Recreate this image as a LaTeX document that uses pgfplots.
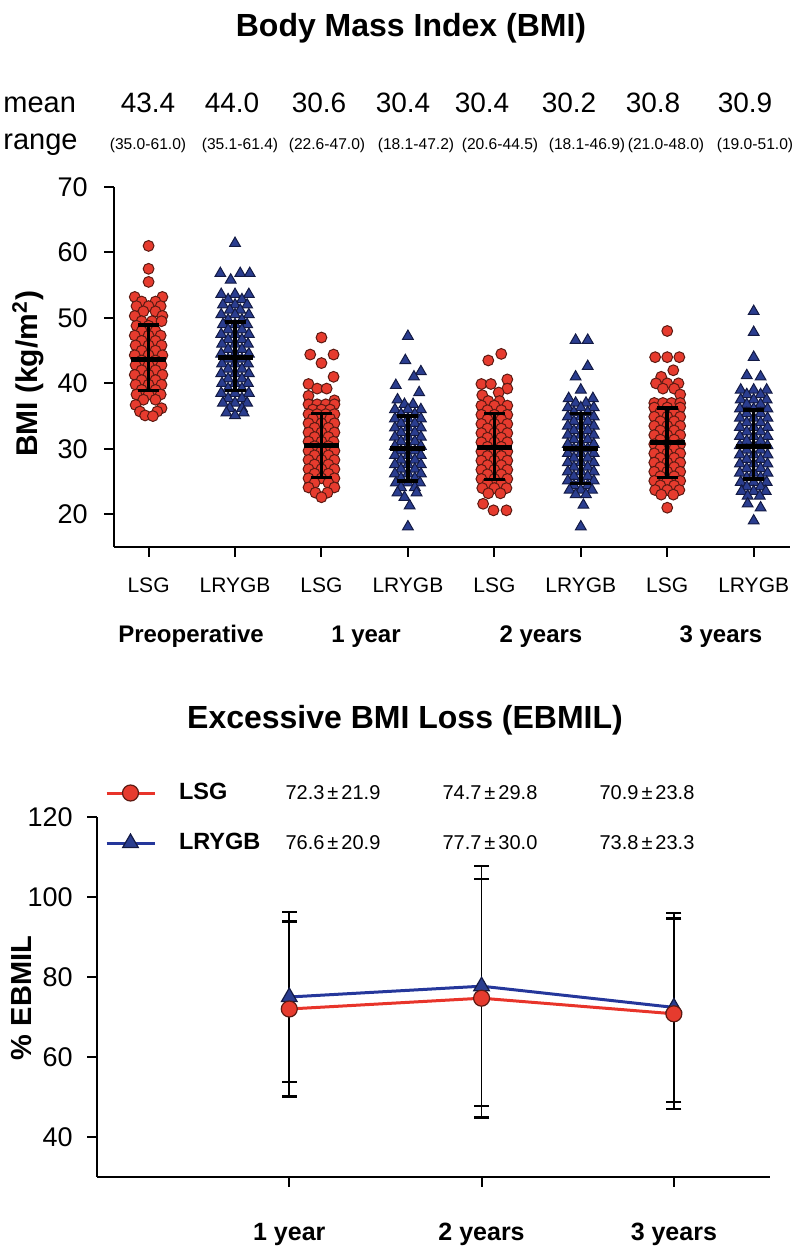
\documentclass[border=0pt]{standalone}
\usepackage{pgfplots}
\pgfplotsset{compat=1.18}
\usepackage{fontspec}
\setmainfont{Liberation Sans}
\definecolor{redfill}{HTML}{E63B2E}
\definecolor{rededge}{HTML}{5C1A12}
\definecolor{bluefill}{HTML}{2A3D8F}
\definecolor{blueedge}{HTML}{131A44}
\definecolor{redline}{HTML}{E8342A}
\definecolor{blueline}{HTML}{25379B}
\newcommand{\fs}[1]{\fontsize{#1}{#1}\selectfont}
\begin{document}
\begin{tikzpicture}
\useasboundingbox (0,0) rectangle (400pt,624pt);
% ---------------- top: BMI ----------------
\begin{axis}[
  at={(57pt,350.5pt)}, anchor=south west,
  width=338pt, height=180pt, scale only axis,
  xmin=-0.4, xmax=7.42, ymin=15, ymax=70,
  axis lines=left,
  axis line style={-, line width=1pt, black},
  xtick={0,...,7}, ytick={20,30,...,70},
  xticklabels={LSG,LRYGB,LSG,LRYGB,LSG,LRYGB,LSG,LRYGB},
  tick align=outside, major tick length=5pt,
  every tick/.style={black, line width=1pt},
  /pgf/number format/assume math mode=true,
  yticklabel style={font=\fs{13.5}, anchor=east, inner sep=0pt, xshift=-8pt},
  xticklabel style={font=\fs{10.5}, anchor=base, inner sep=0pt, yshift=-17.75pt},
  clip=false, clip marker paths=true,
]
% LSG (red circles)
\addplot[only marks, mark=*, mark size=2.7pt, mark options={fill=redfill, draw=rededge, line width=0.5pt}] coordinates {
(0,61.0) (0,57.5) (0,55.5)
(-0.16,53.2) (0.16,53.2) (-0.08,52.5) (0.08,52.5)
(-0.14,51.8) (0,51.8) (0.14,51.8) (-0.06,51.0) (0.08,51.0)
(-0.16,50.3) (0.16,50.3) (-0.08,49.5) (0.04,49.5) (0.15,49.5)
(-0.14,48.8) (0,48.8) (-0.08,48.0) (0.08,48.0)
(-0.16,47.3) (0,47.3) (0.14,47.3) (-0.08,46.5) (0.08,46.5)
(-0.15,45.8) (0,45.8) (0.15,45.8) (-0.08,45.0) (0.08,45.0)
(-0.16,44.3) (0,44.3) (0.16,44.3) (-0.08,43.5) (0.08,43.5)
(-0.15,42.8) (0,42.8) (0.15,42.8) (-0.08,42.0) (0.08,42.0)
(-0.16,41.3) (0,41.3) (0.16,41.3) (-0.08,40.5) (0.08,40.5)
(-0.15,39.8) (0,39.8) (0.15,39.8) (-0.08,39.0) (0.08,39.0)
(-0.14,38.3) (0,38.3) (0.14,38.3) (-0.06,37.5) (0.08,37.5)
(-0.15,36.7) (0.15,36.2) (-0.1,35.7) (0.1,35.7) (-0.04,35.1) (0.05,35.0)
(2,47.0) (1.87,44.4) (2.14,44.4) (2,43.1) (2.14,41.0) (1.85,39.9)
(1.95,39.2) (2.06,39.2) (1.85,38.1) (2.15,37.4)
(1.85,36.8) (1.95,36.8) (2.05,36.8) (2.15,36.8)
(1.9,36.0) (2.0,36.0) (2.1,36.0)
(1.85,35.3) (1.95,35.3) (2.05,35.3) (2.15,35.3)
(1.9,34.6) (2.1,34.6) (1.85,33.9) (2,33.9) (2.15,33.9)
(1.92,33.2) (2.08,33.2) (1.85,32.5) (2,32.5) (2.15,32.5)
(1.92,31.8) (2.08,31.8) (1.85,31.1) (2,31.1) (2.14,31.1)
(1.92,30.4) (2.08,30.4) (1.85,29.7) (2,29.7) (2.15,29.7)
(1.92,29.0) (2.08,29.0) (1.85,28.3) (2,28.3) (2.15,28.3)
(1.92,27.6) (2.08,27.6) (1.85,26.9) (2,26.9) (2.15,26.9)
(1.92,26.2) (2.08,26.2) (1.85,25.5) (2,25.5) (2.15,25.5)
(1.92,24.8) (2.08,24.8) (1.85,24.1) (2.15,24.1)
(1.93,23.3) (2.07,23.3) (2,22.6)
(4.08,44.5) (3.93,43.5) (4.15,40.6) (3.85,39.9) (3.96,39.9) (4.15,39.2)
(4.05,38.6) (3.86,38.2) (3.93,37.3) (4.06,37.3)
(3.85,36.6) (4,36.6) (4.15,36.6) (3.92,35.9) (4.08,35.9)
(3.85,35.2) (4,35.2) (4.15,35.2) (3.92,34.5) (4.08,34.5)
(3.85,33.8) (4,33.8) (4.15,33.8) (3.92,33.1) (4.08,33.1)
(3.85,32.4) (4,32.4) (4.15,32.4) (3.92,31.7) (4.08,31.7)
(3.85,31.0) (4,31.0) (4.15,31.0) (3.92,30.3) (4.08,30.3)
(3.85,29.6) (4,29.6) (4.15,29.6) (3.92,28.9) (4.08,28.9)
(3.85,28.2) (4,28.2) (4.15,28.2) (3.92,27.5) (4.08,27.5)
(3.85,26.8) (4,26.8) (4.15,26.8) (3.92,26.1) (4.08,26.1)
(3.85,25.4) (4,25.4) (4.15,25.4) (3.92,24.7) (4.08,24.7)
(3.86,24.0) (4,24.0) (4.14,24.0) (3.93,23.2) (4.07,23.2)
(3.87,21.6) (3.99,20.6) (4.14,20.6)
(6,48.0) (5.86,44.0) (6,44.0) (6.14,44.0) (6.07,42.0) (5.93,41.0)
(5.87,40.0) (6.0,40.0) (6.13,40.0) (5.95,39.2) (6.08,39.2) (6.15,38.3)
(5.85,37.0) (5.95,37.0) (6.05,37.0) (6.15,37.0)
(5.85,36.3) (6,36.3) (6.15,36.3) (5.92,35.6) (6.08,35.6)
(5.85,34.9) (6,34.9) (6.15,34.9) (5.92,34.2) (6.08,34.2)
(5.85,33.5) (6,33.5) (6.15,33.5) (5.92,32.8) (6.08,32.8)
(5.85,32.1) (6,32.1) (6.15,32.1) (5.92,31.4) (6.08,31.4)
(5.85,30.7) (6,30.7) (6.15,30.7) (5.92,30.0) (6.08,30.0)
(5.85,29.3) (6,29.3) (6.15,29.3) (5.92,28.6) (6.08,28.6)
(5.85,27.9) (6,27.9) (6.15,27.9) (5.92,27.2) (6.08,27.2)
(5.85,26.5) (6,26.5) (6.15,26.5) (5.92,25.8) (6.08,25.8)
(5.85,25.1) (6,25.1) (6.15,25.1) (5.92,24.4) (6.08,24.4)
(5.86,23.7) (6,23.7) (6.14,23.7) (5.93,23.0) (6.07,23.0) (6,21.0)
};
% LRYGB (blue triangles)
\addplot[only marks, mark=triangle*, mark size=3.1pt, mark options={fill=bluefill, draw=blueedge, line width=0.5pt}] coordinates {
(1,61.4) (0.83,56.8) (1.06,56.8) (1.17,56.8) (0.95,55.8)
(0.84,53.6) (1,53.6) (1.16,53.6) (0.92,52.8) (1.08,52.8)
(0.86,52.0) (1,52.0) (1.14,52.0) (0.94,51.2) (1.06,51.2)
(0.84,50.5) (1,50.5) (1.16,50.5) (0.92,49.7) (1.08,49.7)
(0.86,49.0) (1,49.0) (1.14,49.0) (0.92,48.2) (1.08,48.2)
(0.84,47.5) (1,47.5) (1.16,47.5) (0.92,46.7) (1.08,46.7)
(0.85,46.0) (1,46.0) (1.15,46.0) (0.92,45.2) (1.08,45.2)
(0.84,44.5) (1,44.5) (1.16,44.5) (0.92,43.7) (1.08,43.7)
(0.85,43.0) (1,43.0) (1.15,43.0) (0.92,42.2) (1.08,42.2)
(0.84,41.5) (1,41.5) (1.16,41.5) (0.92,40.7) (1.08,40.7)
(0.85,40.0) (1,40.0) (1.15,40.0) (0.92,39.2) (1.08,39.2)
(0.84,38.5) (1,38.5) (1.16,38.5) (0.92,37.7) (1.08,37.7)
(0.86,37.0) (1,37.0) (1.14,37.0) (0.94,36.2) (1.08,36.2)
(0.9,35.5) (1.1,35.5) (1,35.1)
(3,47.2) (2.97,43.5) (3.15,41.8) (3.07,41.0) (2.86,39.7) (3.13,38.6) (2.88,37.5)
(2.96,36.8) (3.06,36.8) (2.85,36.0) (3,36.0) (3.15,36.0) (2.92,35.3) (3.08,35.3)
(2.85,34.6) (3,34.6) (3.15,34.6) (2.92,33.9) (3.08,33.9)
(2.85,33.2) (3,33.2) (3.15,33.2) (2.92,32.5) (3.08,32.5)
(2.85,31.8) (3,31.8) (3.15,31.8) (2.92,31.1) (3.08,31.1)
(2.85,30.4) (3,30.4) (3.15,30.4) (2.92,29.7) (3.08,29.7)
(2.85,29.0) (3,29.0) (3.15,29.0) (2.92,28.3) (3.08,28.3)
(2.85,27.6) (3,27.6) (3.15,27.6) (2.92,26.9) (3.08,26.9)
(2.85,26.2) (3,26.2) (3.15,26.2) (2.92,25.5) (3.08,25.5)
(2.86,24.8) (3,24.8) (3.14,24.8) (2.92,24.1) (3.08,24.1)
(2.88,23.3) (3.1,23.3) (2.96,22.6) (3.02,21.3) (3,18.1)
(4.94,46.6) (5.08,46.6) (5.08,42.6) (4.94,41.0) (5,39.0) (4.86,37.7) (5.14,37.7)
(4.94,37.0) (5.06,37.0)
(4.85,36.3) (5,36.3) (5.15,36.3) (4.92,35.6) (5.08,35.6)
(4.85,34.9) (5,34.9) (5.15,34.9) (4.92,34.2) (5.08,34.2)
(4.85,33.5) (5,33.5) (5.15,33.5) (4.92,32.8) (5.08,32.8)
(4.85,32.1) (5,32.1) (5.15,32.1) (4.92,31.4) (5.08,31.4)
(4.85,30.7) (5,30.7) (5.15,30.7) (4.92,30.0) (5.08,30.0)
(4.85,29.3) (5,29.3) (5.15,29.3) (4.92,28.6) (5.08,28.6)
(4.85,27.9) (5,27.9) (5.15,27.9) (4.92,27.2) (5.08,27.2)
(4.85,26.5) (5,26.5) (5.15,26.5) (4.92,25.8) (5.08,25.8)
(4.85,25.1) (5,25.1) (5.15,25.1) (4.92,24.4) (5.08,24.4)
(4.87,23.7) (5,23.7) (5.13,23.7) (4.94,23.0) (5.06,23.0)
(5.03,21.4) (5,18.1)
(7,51.0) (7,47.8) (7,44.0) (6.92,41.2) (7.08,41.0)
(6.85,39.0) (7,39.0) (7.15,39.0) (6.92,38.3) (7.08,38.3)
(6.85,37.5) (7,37.5) (7.15,37.5) (6.92,36.8) (7.08,36.8)
(6.84,36.1) (7,36.1) (7.16,36.1) (6.92,35.4) (7.08,35.4)
(6.84,34.7) (7,34.7) (7.16,34.7) (6.92,34.0) (7.08,34.0)
(6.84,33.3) (7,33.3) (7.16,33.3) (6.92,32.6) (7.08,32.6)
(6.84,31.9) (7,31.9) (7.16,31.9) (6.92,31.2) (7.08,31.2)
(6.84,30.5) (7,30.5) (7.16,30.5) (6.92,29.8) (7.08,29.8)
(6.84,29.1) (7,29.1) (7.16,29.1) (6.92,28.4) (7.08,28.4)
(6.84,27.7) (7,27.7) (7.16,27.7) (6.92,27.0) (7.08,27.0)
(6.84,26.3) (7,26.3) (7.16,26.3) (6.92,25.6) (7.08,25.6)
(6.85,24.9) (7,24.9) (7.15,24.9) (6.92,24.2) (7.08,24.2)
(6.86,23.5) (7,23.5) (7.14,23.5) (6.93,22.8) (7.07,22.8)
(6.93,21.6) (7.08,21.0) (7,19.0)
};
% mean +/- SD : vertical bars, one plot per group
\addplot[black, line width=1.8pt, mark=none] coordinates {(0,38.9) (0,48.9)};
\addplot[black, line width=1.8pt, mark=none] coordinates {(1,38.9) (1,49.4)};
\addplot[black, line width=1.8pt, mark=none] coordinates {(2,25.6) (2,35.4)};
\addplot[black, line width=1.8pt, mark=none] coordinates {(3,25.1) (3,35.0)};
\addplot[black, line width=1.8pt, mark=none] coordinates {(4,25.3) (4,35.4)};
\addplot[black, line width=1.8pt, mark=none] coordinates {(5,24.7) (5,35.4)};
\addplot[black, line width=1.8pt, mark=none] coordinates {(6,25.6) (6,36.2)};
\addplot[black, line width=1.8pt, mark=none] coordinates {(7,25.4) (7,35.9)};
\addplot[only marks, mark=-, mark size=5.25pt, mark options={line width=1.8pt, black}] coordinates {
(0,38.9)(0,48.9)(1,38.9)(1,49.4)(2,25.6)(2,35.4)(3,25.1)(3,35.0)
(4,25.3)(4,35.4)(5,24.7)(5,35.4)(6,25.6)(6,36.2)(7,25.4)(7,35.9)};
\addplot[only marks, mark=-, mark size=8.75pt, mark options={line width=2.4pt, black}] coordinates {
(0,43.6)(1,44.0)(2,30.5)(3,30.0)(4,30.2)(5,30.0)(6,31.0)(7,30.4)};
\end{axis}
% ---------------- bottom: EBMIL ----------------
\begin{axis}[
  at={(48.5pt,35.5pt)}, anchor=south west,
  width=336.5pt, height=180pt, scale only axis,
  xmin=0, xmax=3.5, ymin=30, ymax=120,
  axis lines=left,
  axis line style={-, line width=1pt, black},
  xtick={1,2,3}, ytick={40,60,...,120},
  xticklabels={1 year,2 years,3 years},
  tick align=outside, major tick length=5pt,
  every tick/.style={black, line width=1pt},
  /pgf/number format/assume math mode=true,
  yticklabel style={font=\fs{13.5}, anchor=east, inner sep=0pt, xshift=-7pt},
  xticklabel style={font=\bfseries\fs{12.5}, anchor=base, inner sep=0pt, yshift=-26.5pt},
  clip=false,
  legend cell align=left,
  legend style={draw=none, fill=none, at={(rel axis cs:0,1)}, anchor=west,
    xshift=4pt, yshift=-0.5pt, inner sep=0pt, outer sep=0pt,
    row sep=13pt, column sep=0pt,
    nodes={inner sep=0pt, text height=9pt, text depth=3pt, font=\fs{10}}},
  legend image code/.code={\draw[mark repeat=2,mark phase=2,#1] plot coordinates {(0pt,0pt)(12pt,0pt)(24pt,0pt)};},
]
\addlegendimage{redline, line width=1.5pt, mark=*, mark size=4pt, mark options={fill=redfill, draw=rededge, line width=0.6pt}}
\addlegendentry{\hspace*{11.5pt}\makebox[37.75pt][l]{\bfseries\fs{11.75}LSG}\makebox[78.5pt][c]{72.3\kern1.5pt±\kern1.5pt21.9}\makebox[78.5pt][c]{74.7\kern1.5pt±\kern1.5pt29.8}\makebox[78.5pt][c]{70.9\kern1.5pt±\kern1.5pt23.8}}
\addlegendimage{blueline, line width=1.5pt, mark=triangle*, mark size=4.5pt, mark options={fill=bluefill, draw=blueedge, line width=0.6pt}}
\addlegendentry{\hspace*{11.5pt}\makebox[37.75pt][l]{\bfseries\fs{11.75}LRYGB}\makebox[78.5pt][c]{76.6\kern1.5pt±\kern1.5pt20.9}\makebox[78.5pt][c]{77.7\kern1.5pt±\kern1.5pt30.0}\makebox[78.5pt][c]{73.8\kern1.5pt±\kern1.5pt23.3}}
\addplot[black, line width=0.8pt, mark=none, forget plot] coordinates {(1,50.1)(1,96.3)};
\addplot[black, line width=0.8pt, mark=none, forget plot] coordinates {(2,44.9)(2,107.7)};
\addplot[black, line width=0.8pt, mark=none, forget plot] coordinates {(3,47.0)(3,96.0)};
\addplot[only marks, mark=-, mark size=3.8pt, mark options={line width=1.2pt, black}, forget plot] coordinates {
(1,50.1)(1,93.9)(1,53.7)(1,96.3)(2,44.9)(2,104.5)(2,47.7)(2,107.7)(3,47.0)(3,94.6)(3,48.8)(3,96.0)};
\addplot[blueline, line width=1.5pt, mark=triangle*, mark size=4.5pt, mark options={fill=bluefill, draw=blueedge, line width=0.6pt}, forget plot] coordinates {(1,75.0)(2,77.7)(3,72.4)};
\addplot[redline, line width=1.5pt, mark=*, mark size=4pt, mark options={fill=redfill, draw=rededge, line width=0.6pt}, forget plot] coordinates {(1,72.0)(2,74.7)(3,70.8)};
\end{axis}
% ---------------- texts ----------------
\node[font=\bfseries\fs{16}] at (205.5pt,610pt) {Body Mass Index (BMI)};
\node[font=\bfseries\fs{16}] at (202.5pt,264pt) {Excessive BMI Loss (EBMIL)};
\node[font=\fs{14.5}, anchor=base west, inner sep=0pt] at (1.5pt,567.5pt) {mean};
\node[font=\fs{14.5}, anchor=base west, inner sep=0pt] at (1.5pt,549pt) {range};
\foreach \x/\t in {74/43.4, 116/44.0, 159.5/30.6, 201.5/30.4, 241/30.4, 284.5/30.2, 326.5/30.8, 372.5/30.9}
  \node[font=\fs{14}, anchor=base, inner sep=0pt] at (\x pt,567.5pt) {\t};
\foreach \x/\t in {74/35.0-61.0, 120/35.1-61.4, 163.5/22.6-47.0, 208/18.1-47.2, 250/20.6-44.5, 293.5/18.1-46.9, 333/21.0-48.0, 377.5/19.0-51.0}
  \node[font=\fs{7.8}, anchor=base, inner sep=0pt] at (\x pt,549pt) {(\t)};
\foreach \x/\t in {95.5/Preoperative, 183/1 year, 270.5/2 years, 360.5/3 years}
  \node[font=\bfseries\fs{12}, anchor=base, inner sep=0pt] at (\x pt,302.5pt) {\t};
\node[font=\bfseries\fs{15}, rotate=90] at (14pt,437pt) {BMI (kg/m\textsuperscript{2})};
\node[font=\bfseries\fs{14.5}, rotate=90] at (11pt,125pt) {\% EBMIL};
\end{tikzpicture}
\end{document}
